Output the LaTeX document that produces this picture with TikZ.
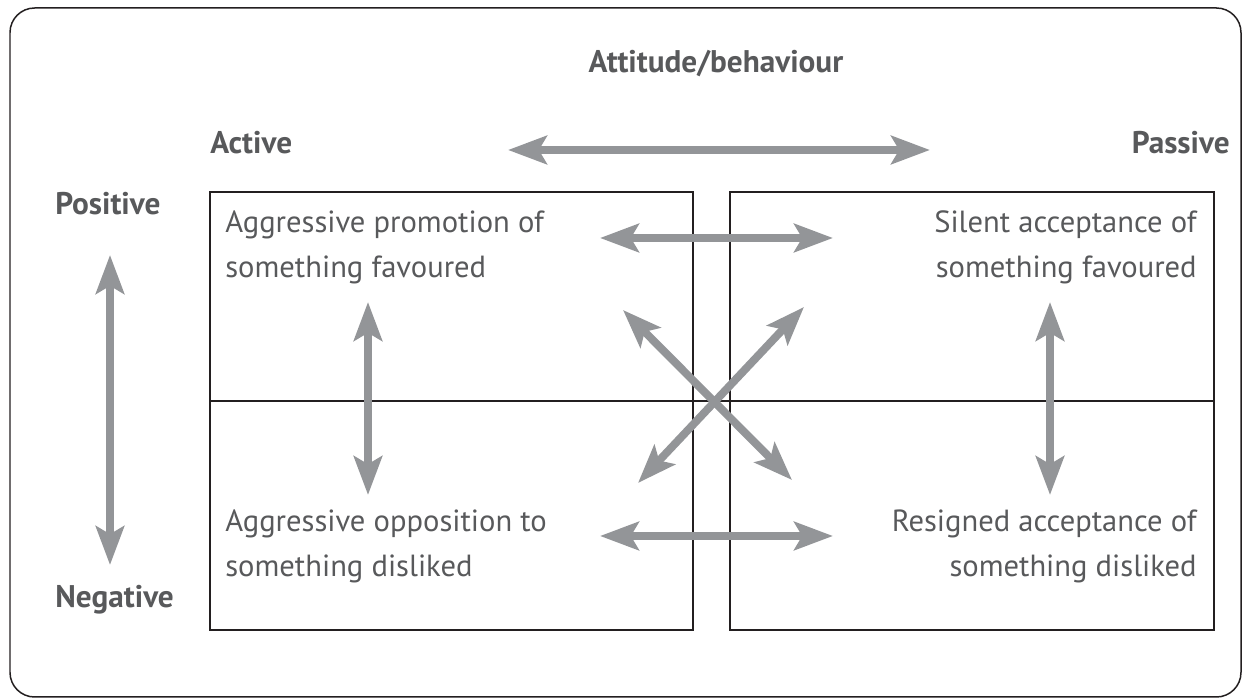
\documentclass[tikz,border=0pt]{standalone}
\usepackage{fontspec}
\setmainfont{PT Sans}
\usepackage{tikz}
\usetikzlibrary{arrows.meta}
\definecolor{arrowgrey}{HTML}{939598}
\definecolor{textgrey}{HTML}{58595B}
\definecolor{framegrey}{HTML}{231F20}

\begin{document}
\begin{tikzpicture}[scale=1,
    twoway/.style={{Stealth[length=22pt,width=16pt,inset=4.5pt]}-{Stealth[length=22pt,width=16pt,inset=4.5pt]},
      line width=4.5pt, draw=arrowgrey},
    box/.style={draw=framegrey, line width=1.1pt},
    quad/.style={font=\fontsize{17.4}{26.1}\selectfont, text=textgrey, inner sep=0pt},
    heading/.style={font=\fontsize{17.8}{26.1}\selectfont\bfseries, text=textgrey, inner sep=0pt}]
  \useasboundingbox (0, 0) rectangle (24.84, 14);
  \draw [framegrey, line width=0.85pt, rounded corners=14pt]
    (0.2, 0.06) rectangle (24.82, 13.84);

  % the two boxes and the divider
  \draw [box] (4.2, 1.4) rectangle (13.86, 10.16);
  \draw [box] (14.6, 1.4) rectangle (24.28, 10.16);
  \draw [box] (4.2, 5.98) -- (24.28, 5.98);

  % labels
  \node[heading, anchor=base] (attitude) at (14.32, 12.54) {Attitude/behaviour};
  \node[heading, anchor=base west] (active) at (4.2, 10.92) {Active};
  \node[heading, anchor=base east] (passive) at (24.6, 10.92) {Passive};
  \node[heading, anchor=base west] (positive) at (1.1, 9.7) {Positive};
  \node[heading, anchor=base west] (negative) at (1.1, 1.84) {Negative};

  % base is the last line
  \node[quad, align=left, anchor=base west] (promotion) at (4.5, 8.44)
    {Aggressive promotion of\\something favoured};
  \node[quad, align=right, anchor=base east] (silent) at (23.94, 8.44)
    {Silent acceptance of\\something favoured};
  \node[quad, align=left, anchor=base west] (opposition) at (4.5, 2.46)
    {Aggressive opposition to\\something disliked};
  \node[quad, align=right, anchor=base east] (resigned) at (23.94, 2.46)
    {Resigned acceptance of\\something disliked};

  % arrow ends
  \coordinate (att-l) at (10.16, 11.0);
  \coordinate (att-r) at (18.6, 11.0);
  \coordinate (pos-t) at (2.2, 8.9);
  \coordinate (neg-b) at (2.2, 2.7);
  \coordinate (act-t) at (7.36, 7.96);
  \coordinate (act-b) at (7.36, 4.1);
  \coordinate (pas-t) at (21.0, 7.96);
  \coordinate (pas-b) at (21.0, 4.1);
  \coordinate (fav-l) at (12.0, 9.24);
  \coordinate (fav-r) at (16.66, 9.24);
  \coordinate (dis-l) at (12.0, 3.28);
  \coordinate (dis-r) at (16.66, 3.28);
  \coordinate (x1-t) at (12.46, 7.8);
  \coordinate (x1-b) at (15.84, 4.4);
  \coordinate (x2-t) at (16.08, 7.86);
  \coordinate (x2-b) at (12.76, 4.34);

  \draw [twoway] (att-l) -- (att-r);
  \draw [twoway] (pos-t) -- (neg-b);
  \draw [twoway] (act-t) -- (act-b);
  \draw [twoway] (pas-t) -- (pas-b);
  \draw [twoway] (fav-l) -- (fav-r);
  \draw [twoway] (dis-l) -- (dis-r);
  \draw [twoway] (x1-t) -- (x1-b);
  \draw [twoway] (x2-t) -- (x2-b);
\end{tikzpicture}
\end{document}
